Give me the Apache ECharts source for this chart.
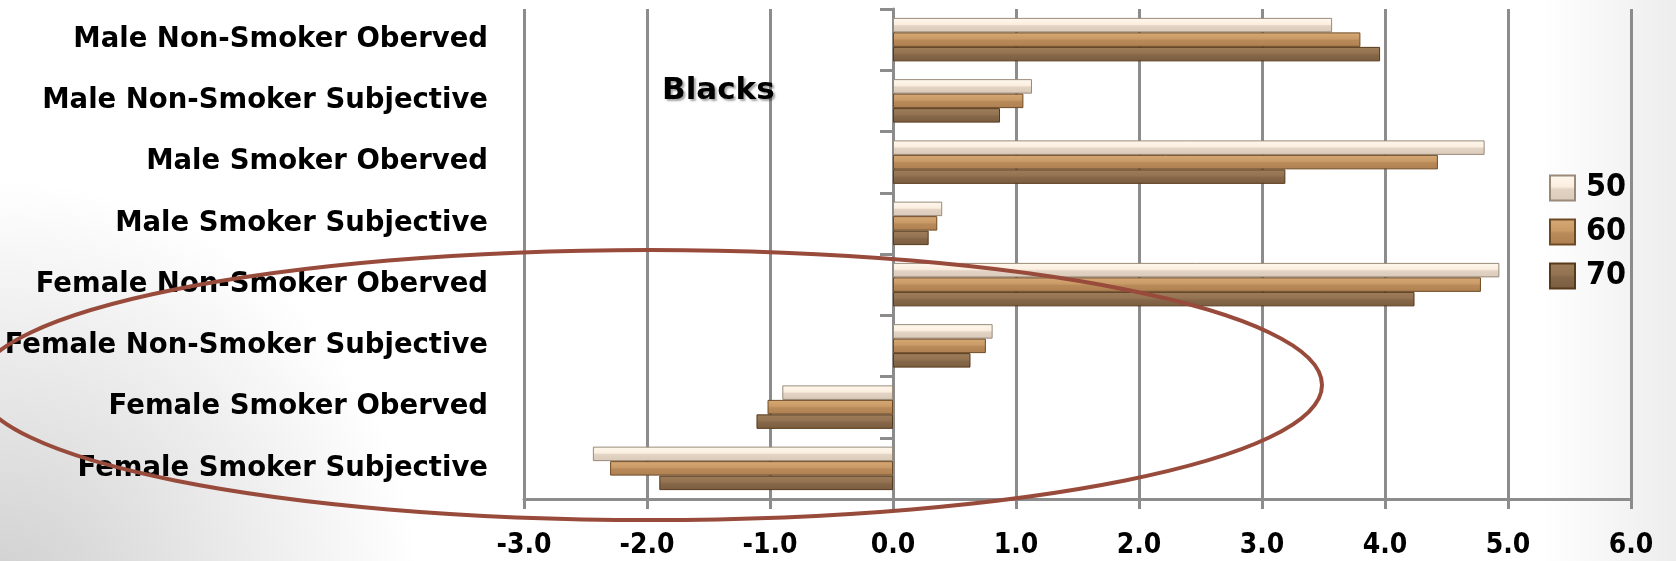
<!DOCTYPE html>
<html>
<head>
<meta charset="utf-8">
<script src="https://cdn.jsdelivr.net/npm/echarts@6/dist/echarts.min.js"></script>
<style>
html,body{margin:0;padding:0;background:#fff;}
#chart{width:1676px;height:561px;}
</style>
</head>
<body>
<div id="chart"></div>
<script>
var categories = [
  'Male Non-Smoker Oberved',
  'Male Non-Smoker Subjective',
  'Male Smoker Oberved',
  'Male Smoker Subjective',
  'Female Non-Smoker Oberved',
  'Female Non-Smoker Subjective',
  'Female Smoker Oberved',
  'Female Smoker Subjective'
];
var seriesNames = ['50', '60', '70'];
var values50 = [3.57, 1.13, 4.81, 0.40, 4.93, 0.81, -0.90, -2.44];
var values60 = [3.80, 1.06, 4.43, 0.36, 4.78, 0.755, -1.02, -2.30];
var values70 = [3.96, 0.87, 3.19, 0.29, 4.24, 0.63, -1.11, -1.90];
var xTicks = { min: -3, max: 6, interval: 1 };
var annotationText = 'Blacks';

function grad(c0, c1, c2, c3) {
  return new echarts.graphic.LinearGradient(0, 0, 0, 1, [
    { offset: 0, color: c0 },
    { offset: 0.45, color: c1 },
    { offset: 0.55, color: c2 },
    { offset: 1, color: c3 }
  ]);
}
var styles = [
  { color: grad('#FFF8EE', '#FBEEDF', '#E2D3C4', '#DACAB9'), borderColor: '#9A8A7A' },
  { color: grad('#D6A976', '#C99A66', '#B98A59', '#AE7F50'), borderColor: '#6E4A24' },
  { color: grad('#9E7E5A', '#927250', '#866749', '#7A5C3E'), borderColor: '#57391B' }
];
var data = [values50, values60, values70];

var chart = echarts.init(document.getElementById('chart'), null, { renderer: 'canvas' });
var gridColor = '#8C8C8C';
var condensed = "'DejaVu Sans Condensed', 'DejaVu Sans', sans-serif";

var series = seriesNames.map(function (name, i) {
  return {
    name: name,
    type: 'bar',
    yAxisIndex: 0,
    barGap: '0%',
    barCategoryGap: '29%',
    data: data[i],
    itemStyle: { color: styles[i].color, borderColor: styles[i].borderColor, borderWidth: 1 },
    z: 3
  };
});

chart.setOption({
  animation: false,
  backgroundColor: '#ffffff',
  grid: { left: 524, right: 45, top: 9, bottom: 62, containLabel: false },
  legend: {
    orient: 'vertical',
    left: 1544,
    top: 167,
    itemWidth: 25,
    itemHeight: 25,
    itemGap: 12,
    icon: 'rect',
    data: seriesNames,
    textStyle: { fontFamily: condensed, fontWeight: 'bold', fontSize: 32, lineHeight: 32, color: '#000', padding: [0, 0, 0, 6] }
  },
  xAxis: {
    type: 'value',
    min: xTicks.min,
    max: xTicks.max,
    interval: xTicks.interval,
    axisLine: { show: true, onZero: false, lineStyle: { color: gridColor, width: 3 } },
    axisTick: { show: true, length: 10, lineStyle: { color: gridColor, width: 3 } },
    splitLine: { show: true, lineStyle: { color: gridColor, width: 3 } },
    axisLabel: {
      margin: 33,
      fontFamily: condensed,
      fontWeight: 'bold',
      fontSize: 28,
      color: '#000',
      formatter: function (v) { return v.toFixed(1); }
    }
  },
  yAxis: [
    {
      type: 'category',
      inverse: true,
      data: categories,
      position: 'left',
      axisLine: { show: false, onZero: false },
      axisTick: { show: false },
      splitLine: { show: false },
      axisLabel: {
        margin: 36,
        fontFamily: "'DejaVu Sans', sans-serif",
        fontWeight: 'bold',
        fontSize: 27.5,
        color: '#000',
        padding: [10, 0, 0, 0]
      }
    },
    {
      type: 'category',
      inverse: true,
      data: categories,
      position: 'left',
      axisLine: { show: true, onZero: true, onZeroAxisIndex: 0, lineStyle: { color: gridColor, width: 3 } },
      axisTick: { show: true, length: 13, lineStyle: { color: gridColor, width: 3 } },
      axisLabel: { show: false },
      splitLine: { show: false }
    }
  ],
  graphic: [
    {
      type: 'rect',
      z: -10,
      silent: true,
      shape: { x: 0, y: 141, width: 420, height: 420 },
      style: {
        fill: new echarts.graphic.RadialGradient(0, 459 / 420, 1, [
          { offset: 0, color: 'rgba(207,207,207,1)' },
          { offset: 0.4, color: 'rgba(207,207,207,0.6)' },
          { offset: 1, color: 'rgba(207,207,207,0)' }
        ])
      }
    },
    {
      type: 'rect',
      z: -10,
      silent: true,
      shape: { x: 1540, y: 0, width: 136, height: 561 },
      style: {
        fill: new echarts.graphic.LinearGradient(0, 0, 1, 0, [
          { offset: 0, color: 'rgba(225,225,225,0)' },
          { offset: 1, color: 'rgba(225,225,225,0.6)' }
        ])
      }
    },
    {
      type: 'text',
      z: 50,
      left: 662,
      top: 75,
      style: {
        text: annotationText,
        fontFamily: "'DejaVu Sans', sans-serif",
        fontWeight: 'bold',
        fontSize: 31,
        fill: '#000',
        textShadowColor: 'rgba(0,0,0,0.35)',
        textShadowOffsetX: 2,
        textShadowOffsetY: 2,
        textShadowBlur: 2
      }
    },
    {
      type: 'ellipse',
      z: 100,
      silent: true,
      shape: { cx: 650, cy: 385, rx: 672, ry: 135 },
      style: { fill: 'none', stroke: '#984A3B', lineWidth: 4 }
    }
  ],
  series: series
});
</script>
</body>
</html>
